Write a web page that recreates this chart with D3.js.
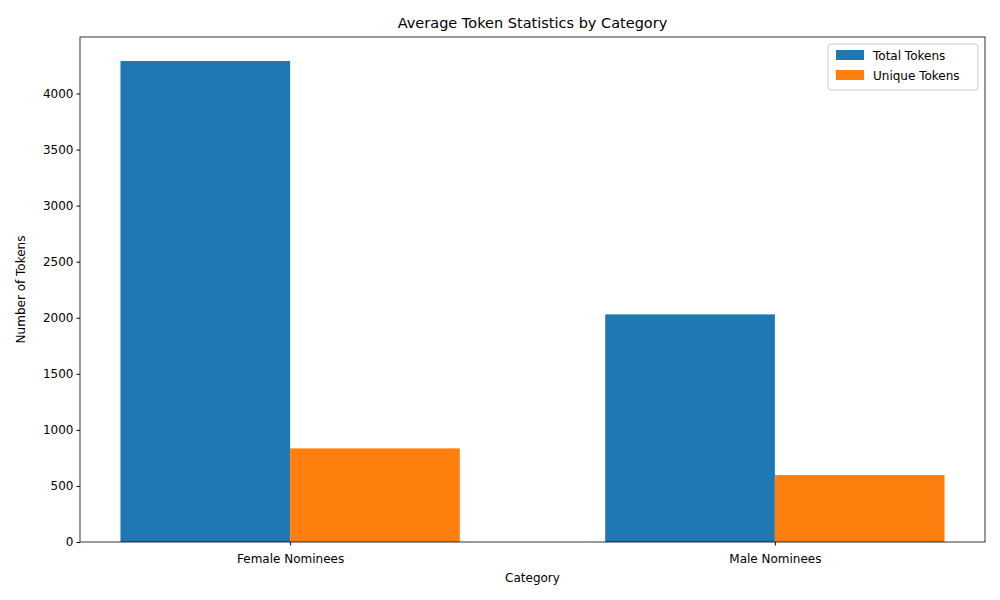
<!DOCTYPE html>
<html>
<head>
<meta charset="utf-8">
<script src="https://cdn.jsdelivr.net/npm/d3@7"></script>
<style>
  body { margin: 0; background: #fff; font-family: "DejaVu Sans", sans-serif; }
  .tick text { font-size: 12px; fill: #000; font-family: "DejaVu Sans", sans-serif; }
</style>
</head>
<body>
<script>
var categories = ["Female Nominees", "Male Nominees"];
var seriesNames = ["Total Tokens", "Unique Tokens"];
var totalTokens = [4290, 2030];
var uniqueTokens = [835, 597];
var yTicks = [0, 500, 1000, 1500, 2000, 2500, 3000, 3500, 4000];
var colors = ["#1f77b4", "#ff7f0e"];

var width = 1000, height = 600;
var plotLeft = 80, plotRight = 985, plotTop = 37, plotBottom = 542;
var barWidth = 0.35;

var svg = d3.select("body").append("svg")
  .attr("width", width)
  .attr("height", height);

// index axis, matplotlib-style margins
var xScale = d3.scaleLinear()
  .domain([-0.4335, 1.4335])
  .range([plotLeft, plotRight]);

var yScale = d3.scaleLinear()
  .domain([0, 4504])
  .range([plotBottom, plotTop]);

var series = [totalTokens, uniqueTokens];
series.forEach(function(values, s) {
  svg.append("g").selectAll("rect")
    .data(values)
    .enter()
    .append("rect")
    .attr("x", function(d, i) { return xScale(i + (s - 1) * barWidth); })
    .attr("width", xScale(barWidth) - xScale(0))
    .attr("y", function(d) { return yScale(d); })
    .attr("height", function(d) { return plotBottom - yScale(d); })
    .attr("fill", colors[s]);
});

var xAxis = d3.axisBottom(xScale)
  .tickValues([0, 1])
  .tickFormat(function(d) { return categories[d]; })
  .tickSizeOuter(0)
  .tickSize(3.5);
svg.append("g")
  .attr("transform", "translate(0," + plotBottom + ")")
  .call(xAxis)
  .call(function(g) { g.select(".domain").remove(); })
  .selectAll("text").attr("dy", "1.2em");

var yAxis = d3.axisLeft(yScale)
  .tickValues(yTicks)
  .tickFormat(d3.format("d"))
  .tickSizeOuter(0)
  .tickSize(3.5);
svg.append("g")
  .attr("transform", "translate(" + plotLeft + ",0)")
  .call(yAxis)
  .call(function(g) { g.select(".domain").remove(); });

svg.append("rect")
  .attr("x", plotLeft).attr("y", plotTop)
  .attr("width", plotRight - plotLeft).attr("height", plotBottom - plotTop)
  .attr("fill", "none").attr("stroke", "#000").attr("stroke-width", 0.8);

svg.append("text")
  .attr("x", (plotLeft + plotRight) / 2).attr("y", 28)
  .attr("text-anchor", "middle")
  .style("font-size", "14.5px")
  .text("Average Token Statistics by Category");

svg.append("text")
  .attr("x", (plotLeft + plotRight) / 2).attr("y", 582)
  .attr("text-anchor", "middle")
  .style("font-size", "12px")
  .text("Category");

svg.append("text")
  .attr("transform", "translate(25," + ((plotTop + plotBottom) / 2) + ") rotate(-90)")
  .attr("text-anchor", "middle")
  .style("font-size", "12px")
  .text("Number of Tokens");

// legend
var legend = svg.append("g").attr("transform", "translate(828,44)");
legend.append("rect")
  .attr("width", 150).attr("height", 46).attr("rx", 3)
  .attr("fill", "#fff").attr("stroke", "#ccc");
legend.selectAll("g.item")
  .data(seriesNames)
  .enter()
  .append("g").attr("class", "item")
  .attr("transform", function(d, i) { return "translate(8," + (6 + i * 20) + ")"; })
  .each(function(d, i) {
    var g = d3.select(this);
    g.append("rect").attr("width", 28).attr("height", 10).attr("fill", colors[i]);
    g.append("text").attr("x", 37).attr("y", 9.5)
      .style("font-size", "12px").text(d);
  });
</script>
</body>
</html>
